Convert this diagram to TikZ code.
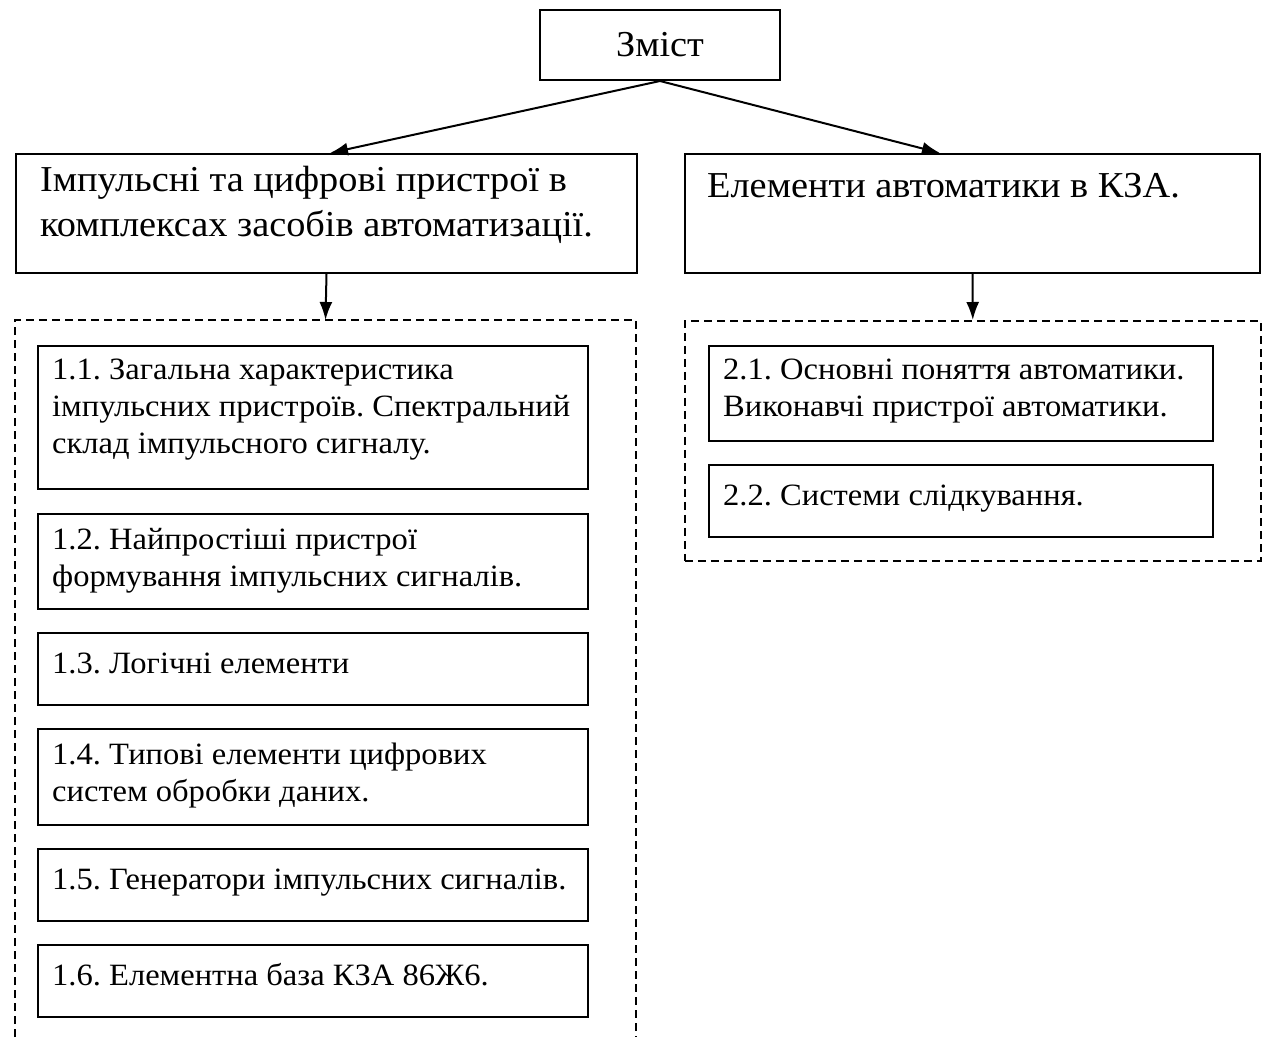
\documentclass[tikz,border=0pt]{standalone}
\usepackage{fontspec}
\setmainfont{Liberation Serif}[FakeStretch=1.05]
\usetikzlibrary{arrows.meta}
\frenchspacing

\tikzset{
  frame/.style={draw, line width=2pt, inner sep=0pt, anchor=north west},
  groupline/.style={line width=1.6pt, dash pattern=on 8pt off 5pt},
  lbox/.style={frame, minimum width=550pt},
  rbox/.style={frame, minimum width=504pt},
  headtext/.style={anchor=north west, align=left, inner sep=0pt,
    font=\fontsize{36.5}{45}\selectfont, execute at begin node=\strut},
  itemtext/.style={anchor=north west, align=left, inner sep=0pt,
    font=\fontsize{31}{37}\selectfont, execute at begin node=\strut},
  link/.style={-{Latex[length=18pt,width=13pt]}, line width=2pt},
}

\begin{document}
\begin{tikzpicture}[x=1pt, y=-1pt]
\useasboundingbox (0,0) rectangle (1269,1037);

% title
\node[frame, anchor=center, minimum width=240pt, minimum height=70pt,
  font=\fontsize{36.5}{45}\selectfont] (top) at (660,45) {Зміст};

% two parts
\node[frame, minimum width=621pt, minimum height=119pt] (part1) at (15,153) {};
\node[headtext] (part1txt) at ([xshift=25pt, yshift=-13pt]part1.north west)
  {Імпульсні та цифрові пристрої в\\комплексах засобів автоматизації.};
\node[frame, minimum width=575pt, minimum height=119pt] (part2) at (684,153) {};
\node[headtext] (part2txt) at ([xshift=23pt, yshift=-13pt]part2.north west)
  {Елементи автоматики в КЗА.};

\coordinate (in1) at (330,153);
\coordinate (in2) at (940,153);
\draw[link] (top.south) -- (in1);
\draw[link] (top.south) -- (in2);

% groups
\coordinate (grp1) at (325.5,320);
\draw[groupline] (15,1037) |- (636,320) -- (636,1037);
\node[frame, groupline, minimum width=576pt, minimum height=240pt] (grp2) at (684,320) {};
\draw[link] (part1.south) -- (grp1);
\draw[link] (part2.south) -- (grp2.north);

% first part
\node[lbox, minimum height=143pt] (s11) at (37,345) {};
\node[itemtext] (s11txt) at ([xshift=15pt, yshift=-14pt]s11.north west)
  {1.1. Загальна характеристика\\імпульсних пристроїв. Спектральний\\склад імпульсного сигналу.};
\node[lbox, minimum height=95pt] (s12) at (37,513) {};
\node[itemtext] (s12txt) at ([xshift=15pt, yshift=-15pt]s12.north west)
  {1.2. Найпростіші пристрої\\формування імпульсних сигналів.};
\node[lbox, minimum height=72pt] (s13) at (37,632) {};
\node[itemtext] (s13txt) at ([xshift=15pt, yshift=-15pt]s13.north west)
  {1.3. Логічні елементи};
\node[lbox, minimum height=96pt] (s14) at (37,728) {};
\node[itemtext] (s14txt) at ([xshift=15pt, yshift=-15pt]s14.north west)
  {1.4. Типові елементи цифрових\\систем обробки даних.};
\node[lbox, minimum height=72pt] (s15) at (37,848) {};
\node[itemtext] (s15txt) at ([xshift=15pt, yshift=-15pt]s15.north west)
  {1.5. Генератори імпульсних сигналів.};
\node[lbox, minimum height=72pt] (s16) at (37,944) {};
\node[itemtext] (s16txt) at ([xshift=15pt, yshift=-15pt]s16.north west)
  {1.6. Елементна база КЗА 86Ж6.};

% second part
\node[rbox, minimum height=95pt] (s21) at (708,345) {};
\node[itemtext] (s21txt) at ([xshift=15pt, yshift=-14pt]s21.north west)
  {2.1. Основні поняття автоматики.\\Виконавчі пристрої автоматики.};
\node[rbox, minimum height=72pt] (s22) at (708,464) {};
\node[itemtext] (s22txt) at ([xshift=15pt, yshift=-15pt]s22.north west)
  {2.2. Системи слідкування.};
\end{tikzpicture}
\end{document}
